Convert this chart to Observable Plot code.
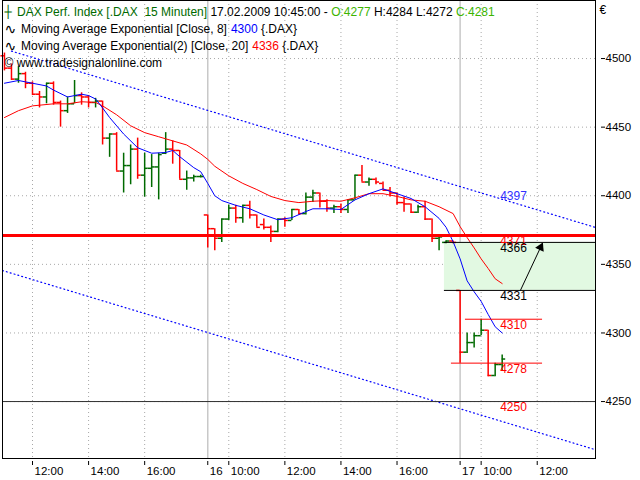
<!DOCTYPE html>
<html><head><meta charset="utf-8">
<script src="https://cdn.jsdelivr.net/npm/d3@7"></script>
<script src="https://cdn.jsdelivr.net/npm/@observablehq/plot@0.6"></script>
<style>
body{margin:0;background:#fff;}
svg text{white-space:pre;}
</style>
</head><body><div id="chart"></div>
<script>
// ---- DATA ----
// sessions: day index, first bar (quarter hours after 09:00), number of bars
const sessionDay   = [0, 1, 2];
const sessionFirst = [8, 1, 1];
const sessionCount = [29, 36, 7];

const opens = [4502,4493,4485,4489,4482,4474,4472,4482,4468,4462,4467,4473,4472,4468,4469,4442,4445,4418,4422,4434,4415,4420,4421,4431,4434,4433,4412,4413,4414,
  4386,4376,4369,4383,4391,4384,4393,4386,4379,4377,4374,4383,4382,4390,4387,4399,4402,4396,4391,4392,4390,4397,4415,4410,4412,4409,4404,4402,4395,4394,4388,4392,4383,4369,4366,4367,
  4331,4286,4293,4298,4302,4269,4277];
const highs = [4504,4496,4494,4490,4483,4476,4482,4483,4469,4472,4484,4475,4473,4471,4469,4445,4446,4431,4437,4442,4431,4430,4431,4446,4440,4433,4418,4415,4415,
  4386,4376,4383,4393,4393,4393,4396,4386,4383,4378,4383,4384,4390,4390,4402,4404,4402,4397,4393,4394,4397,4415,4422,4413,4413,4410,4406,4402,4399,4394,4393,4396,4383,4370,4367,4367,
  4331,4300,4300,4310,4302,4278,4284];
const lows = [4491,4484,4482,4478,4473,4464,4467,4466,4450,4460,4467,4466,4464,4464,4437,4428,4418,4402,4408,4412,4399,4406,4397,4430,4423,4412,4404,4410,4413,
  4362,4360,4366,4382,4380,4380,4383,4377,4375,4366,4373,4377,4382,4386,4386,4395,4391,4388,4387,4387,4387,4397,4410,4407,4408,4404,4399,4393,4388,4387,4387,4382,4366,4360,4365,4365,
  4278,4285,4289,4298,4268,4268,4272];
const closes = [4493,4485,4489,4482,4474,4472,4482,4468,4462,4467,4473,4472,4468,4469,4442,4445,4418,4422,4434,4415,4420,4421,4430,4434,4433,4412,4413,4414,4414,
  4376,4369,4383,4391,4384,4393,4386,4377,4377,4374,4383,4382,4390,4387,4399,4402,4396,4391,4392,4390,4397,4415,4410,4412,4410,4404,4402,4395,4394,4388,4392,4383,4369,4370,4367,4366,
  4286,4293,4298,4302,4269,4277,4281];

// EMA(8) and EMA(20) read at positions (hours of trading time since day-1 09:00)
const ema8Pos = [2.0,2.5,2.75,3.0,3.5,3.75,4.25,4.5,4.75,5.0,5.25,5.5,5.75,6.25,6.75,7.25,7.75,8.0,8.25,8.75,9.0,9.25,9.5,9.75,10.25,10.75,11.25,11.75,12.25,12.75,13.0,13.5,14.0,14.5,15.0,15.5,16.0,16.5,17.0,17.5,17.75,18.0,18.25,18.5,18.75,19.0,19.25,19.5,19.75];
const ema8 = [4482,4484,4483,4482,4480,4477,4472,4473,4474,4473,4470.5,4464,4457,4445,4435,4431,4431.5,4433,4428.5,4420.5,4417.5,4409,4400,4396.5,4393,4390.5,4386,4382.5,4384,4388.5,4390.5,4390.5,4390,4397,4401.5,4405,4401.5,4398,4392,4383.5,4377,4366.5,4354,4338,4330,4323,4313.5,4304.5,4300];
const ema20Pos = [2.0,2.5,3.0,3.75,4.25,4.75,5.25,5.5,6.0,6.5,7.0,7.5,8.0,8.5,9.0,9.25,9.5,10.0,10.5,11.0,11.5,12.0,12.5,13.0,13.5,14.0,14.5,15.0,15.5,16.0,16.5,17.0,17.5,18.0,18.25,18.5,18.75,19.0,19.25,19.5,19.75];
const ema20 = [4457,4462,4465.5,4467,4467,4468.5,4468,4465.5,4459,4451,4446,4443,4440,4437,4430.5,4426.5,4421.5,4414.5,4409,4404.5,4399.5,4396.5,4395,4396,4396.5,4396,4398.5,4401.5,4401.5,4399.5,4397,4396,4392,4387,4377.5,4369.5,4362,4354,4347,4339.5,4336];

// regression channel (dotted blue)
const channelUpperPos = [2.25, 23.078];
const channelUpperVal = [4505.4, 4376.9];
const channelLowerPos = [1.93, 23.078];
const channelLowerVal = [4345.5, 4214.9];

// drawn levels
const redLevel = 4371;
const darkLevel = 4250;
const gapBox = {from: 17.69, low: 4331, high: 4366};
const shortLevels = [{v: 4310, from: 18.44, to: 21.19}, {v: 4278, from: 17.94, to: 21.19}];
const arrowFrom = {p: 20.4, v: 4331};
const arrowTo = {p: 21.18, v: 4365};
const levelLabels = [4371, 4366, 4331, 4310, 4278, 4250];
const levelLabelColors = ["#ff0000", "#000000", "#000000", "#ff0000", "#ff0000", "#ff0000"];
const channelLabel = 4397;

// axes
const yTicks = [4250, 4300, 4350, 4400, 4450, 4500];
const xTickPos = [3, 5, 7, 9.25, 10, 12, 14, 16, 18.25, 19, 21];
const xTickLabels = ["12:00","14:00","16:00","16","10:00","12:00","14:00","16:00","17","10:00","12:00"];
const hourGrid = [3, 5, 7, 10, 12, 14, 16, 19, 21];
const dayStarts = [9.25, 18.25];

// ---- BUILD ----
const GREEN = "#006a00", RED = "#ff0000", LIGHTGREEN = "#3cb400";
const barPos = [];
sessionDay.forEach((d, s) => { for (let q = 0; q < sessionCount[s]; q++) barPos.push(d * 9 + (sessionFirst[s] + q) * 0.25); });
const bars = opens.map((o, i) => ({p: barPos[i], o, h: highs[i], l: lows[i], c: closes[i], col: closes[i] >= o ? GREEN : RED}));
const half = 0.125;
const currentP = barPos[barPos.length - 1];
const last = bars[bars.length - 1];
const xDomain = [1.93, 23.078], yDomain = [4208.5, 4542.3];

const ctx = document.createElement("canvas").getContext("2d");
ctx.font = '12px "Liberation Sans"';
const header = [
  {x: 16.5, base: 15, segs: [
    ["DAX Perf. Index [.DAX  15 Minuten] ", GREEN],
    ["17.02.2009 10:45:00 - ", "#000"],
    [`O:${last.o}`, LIGHTGREEN],
    [` H:${last.h} L:${last.l} `, "#000"],
    [`C:${last.c}`, LIGHTGREEN]]},
  {x: 20.5, base: 32, segs: [
    ["Moving Average Exponential [Close, 8] ", "#000"],
    [String(ema8[ema8.length - 1]), "#0000ff"],
    [" {.DAX}", "#000"]]},
  {x: 20.5, base: 49, segs: [
    ["Moving Average Exponential(2) [Close, 20] ", "#000"],
    [String(ema20[ema20.length - 1]), RED],
    [" {.DAX}", "#000"]]},
  {x: 4, base: 66, segs: [["© www.tradesignalonline.com", "#000"]]}
];
const headerMarks = [];
for (const line of header) {
  let x = line.x;
  for (const [t, c] of line.segs) {
    headerMarks.push(Plot.text([t], {frameAnchor: "top-left", dx: x - 2, dy: line.base - 8.5, fill: c, textAnchor: "start", lineAnchor: "top", fontSize: 12}));
    x += ctx.measureText(t).width;
  }
}
const icons = [
  Plot.text(["┼"], {frameAnchor: "top-left", dx: 2, dy: 15 - 8.5, fill: GREEN, textAnchor: "start", lineAnchor: "top", fontSize: 12, fontFamily: "DejaVu Sans"}),
  Plot.text(["∿"], {frameAnchor: "top-left", dx: 2, dy: 32 - 8.5, fill: "#000", textAnchor: "start", lineAnchor: "top", fontSize: 14, fontFamily: "DejaVu Sans"}),
  Plot.text(["∿"], {frameAnchor: "top-left", dx: 2, dy: 49 - 8.5, fill: "#000", textAnchor: "start", lineAnchor: "top", fontSize: 14, fontFamily: "DejaVu Sans"})
];

const chart = Plot.plot({
  width: 640, height: 480,
  marginLeft: 2, marginRight: 45, marginTop: 0, marginBottom: 22,
  style: {fontFamily: '"Liberation Sans", Arial, sans-serif', fontSize: "11px", background: "#fff", color: "#000"},
  x: {domain: xDomain, axis: null},
  y: {domain: yDomain, axis: null},
  color: {type: "identity"},
  marks: [
    Plot.gridY(yTicks, {stroke: "#a8a8a8", strokeOpacity: 1, strokeDasharray: "1,3"}),
    Plot.gridX(hourGrid, {stroke: "#a8a8a8", strokeOpacity: 1, strokeDasharray: "1,3"}),
    Plot.ruleX(dayStarts, {stroke: "#c8c8c8", strokeWidth: 1.5}),
    Plot.rect([gapBox], {x1: "from", x2: () => xDomain[1], y1: "low", y2: "high", fill: "#e2f9e2"}),
    Plot.line(channelUpperPos.map((p, i) => ({p, v: channelUpperVal[i]})), {x: "p", y: "v", stroke: "#0000ff", strokeDasharray: "1,3", strokeWidth: 1.2, clip: true}),
    Plot.line(channelLowerPos.map((p, i) => ({p, v: channelLowerVal[i]})), {x: "p", y: "v", stroke: "#0000ff", strokeDasharray: "1,3", strokeWidth: 1.2, clip: true}),
    Plot.ruleY([darkLevel], {stroke: "#303030", strokeWidth: 1}),
    Plot.ruleX(bars, {x: "p", y1: "l", y2: "h", stroke: "col", strokeWidth: 1.5}),
    Plot.ruleY(bars, {y: "o", x1: d => d.p - half, x2: "p", stroke: "col", strokeWidth: 1.5}),
    Plot.ruleY(bars, {y: "c", x1: "p", x2: d => d.p + half, stroke: "col", strokeWidth: 1.5}),
    Plot.line(ema20Pos.map((p, i) => ({p, v: ema20[i]})), {x: "p", y: "v", stroke: "#ff0000", strokeWidth: 1}),
    Plot.line(ema8Pos.map((p, i) => ({p, v: ema8[i]})), {x: "p", y: "v", stroke: "#0000ff", strokeWidth: 1}),
    Plot.ruleY([redLevel], {stroke: "#ff0000", strokeWidth: 3}),
    Plot.ruleY([gapBox.high, gapBox.low], {x1: gapBox.from, x2: xDomain[1], stroke: "#000", strokeWidth: 1}),
    Plot.ruleY(shortLevels, {y: "v", x1: "from", x2: "to", stroke: "#ff0000", strokeWidth: 1}),
    Plot.text(levelLabels, {x: () => currentP, y: d => d, text: d => String(d), fill: (d, i) => levelLabelColors[i], textAnchor: "start", lineAnchor: "top", dx: -2, dy: 1, fontSize: 12}),
    Plot.text([channelLabel], {x: () => currentP, y: d => d, text: d => String(d), fill: "#3030ff", textAnchor: "start", lineAnchor: "bottom", dx: -2, dy: 0, fontSize: 12}),
    Plot.arrow([{a: arrowFrom, b: arrowTo}], {x1: d => d.a.p, y1: d => d.a.v, x2: d => d.b.p, y2: d => d.b.v, stroke: "#000", strokeWidth: 1, headLength: 9, headAngle: 40}),
    Plot.dot([arrowTo], {x: "p", y: "v", symbol: "triangle", r: 3.5, fill: "#000", stroke: "none", rotate: 25, dx: -1.7, dy: 3.6}),
    Plot.frame({stroke: "#000"}),
    Plot.axisY(yTicks, {anchor: "right", tickSize: 4, tickPadding: 1, dx: 5, label: null, fontSize: 11.5, tickFormat: d => String(d)}),
    Plot.text(["€"], {frameAnchor: "top-right", dx: 4, dy: 5, textAnchor: "start", lineAnchor: "top", fontSize: 12}),
    Plot.axisX(xTickPos, {anchor: "bottom", tickSize: 4, dy: 3, label: null, tickFormat: () => ""}),
    Plot.text(xTickPos.map((p, i) => ({p, t: xTickLabels[i]})), {x: "p", text: "t", frameAnchor: "bottom", dy: 13, dx: 2, textAnchor: "start", lineAnchor: "middle", fontSize: 11.5}),
    ...icons,
    ...headerMarks
  ]
});
document.getElementById("chart").appendChild(chart);
</script>
</body></html>
